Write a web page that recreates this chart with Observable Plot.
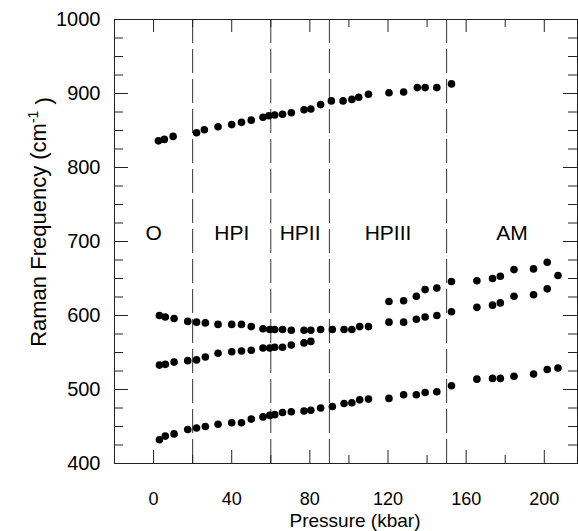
<!DOCTYPE html>
<html>
<head>
<meta charset="utf-8">
<script src="https://cdn.jsdelivr.net/npm/d3@7"></script>
<script src="https://cdn.jsdelivr.net/npm/@observablehq/plot@0.6"></script>
<style>
  html, body { margin: 0; padding: 0; background: #fff; }
</style>
</head>
<body>
<div id="chart"></div>
<script>
// ---- Data ----
// Mode near 835-913 cm^-1
const pressureA = [2.5, 5.5, 10, 22, 26, 33, 40, 45, 50, 56, 59, 62, 66, 70.5, 77, 80.5, 85.5, 91, 97, 101.5, 105, 110, 120.5, 128, 135, 139, 145, 152.5];
const freqA     = [836, 838, 842, 847, 851, 855, 858, 861, 864, 868, 870, 871, 872, 874, 878, 879, 885, 890, 890, 892, 895, 899, 901, 902, 908, 908, 908, 913];
// Mode near 600 -> 580 -> upper AM branch
const pressureB = [3, 6, 10.5, 17.5, 22, 26.5, 33, 40, 45, 50, 56, 59.5, 62, 66, 70.5, 77, 80.5, 85.5, 91.5, 97.5, 101.5, 105.5, 110, 120.5, 128, 134.5, 139, 145, 152.5, 165.5, 173.5, 177.5, 184.5, 194.5, 201.5, 207];
const freqB     = [600, 598, 596, 592, 591, 590, 588, 588, 588, 585, 582, 581, 581, 581, 580, 580, 580, 581, 581, 581, 581, 585, 585, 619, 620, 626, 635, 637, 646, 647, 650, 653, 662, 663, 672, 654];
// Mode near 533 -> 565, then lower AM branch
const pressureC = [3, 6, 10.5, 17.5, 22, 26.5, 33, 40, 45, 50, 56, 59.5, 62, 66, 70.5, 77, 80.5, 120.5, 128, 134.5, 139, 145, 152.5, 165.5, 173.5, 177.5, 184.5, 194.5, 201.5];
const freqC     = [533, 534, 537, 539, 540, 544, 549, 551, 552, 553, 556, 556, 557, 557, 560, 563, 565, 591, 591, 595, 598, 600, 605, 611, 614, 617, 626, 628, 636];
// Mode near 432 -> 529
const pressureD = [3, 6, 10.5, 17.5, 22, 26.5, 33, 40, 45, 50, 56, 59.5, 62, 66, 70.5, 77, 80.5, 85.5, 91.5, 97.5, 101.5, 105.5, 110, 120.5, 128, 134.5, 139, 145, 152.5, 165.5, 173.5, 177.5, 184.5, 194.5, 201.5, 207];
const freqD     = [432, 437, 440, 446, 448, 450, 453, 455, 455, 460, 463, 465, 466, 469, 470, 471, 472, 475, 477, 481, 482, 486, 487, 488, 493, 493, 496, 497, 505, 514, 515, 515, 518, 521, 527, 529];

// Phase boundaries and names
const phaseBounds = [20, 60, 90, 150];
const phaseNames  = ["O", "HPI", "HPII", "HPIII", "AM"];
const phaseLabelFreq = 711;

// Axes
const xDomain = [-20, 217];
const yDomain = [400, 1000];
const xTickLabels = [0, 40, 80, 120, 160, 200];
const xMinorTicks = [20, 60, 100, 140, 180];
const yTickLabels = [400, 500, 600, 700, 800, 900, 1000];
const yMinorTicks = [425, 450, 475, 525, 550, 575, 625, 650, 675, 725, 750, 775, 825, 850, 875, 925, 950, 975];

// ---- Build table ----
const points = [
  ...pressureA.map((p, i) => ({p, f: freqA[i], mode: "A"})),
  ...pressureB.map((p, i) => ({p, f: freqB[i], mode: "B"})),
  ...pressureC.map((p, i) => ({p, f: freqC[i], mode: "C"})),
  ...pressureD.map((p, i) => ({p, f: freqD[i], mode: "D"}))
];
const edges = [xDomain[0], ...phaseBounds, xDomain[1]];
const phaseLabels = phaseNames.map((name, i) => ({name, x: (edges[i] + edges[i + 1]) / 2, y: phaseLabelFreq}));

// ---- Layout ----
const W = 578, H = 531;
const mL = 114, mR = 1, mT = 19, mB = 68;
const fw = W - mL - mR, fh = H - mT - mB;
const majX = 13, minX = 8, majY = 14, minY = 9;
const ink = "#222";
const font = "'Liberation Sans', Arial, Helvetica, sans-serif";

const chart = Plot.plot({
  width: W, height: H,
  marginLeft: mL, marginRight: mR, marginTop: mT, marginBottom: mB,
  style: {fontFamily: font, background: "#fff", color: "#000"},
  x: {domain: xDomain, label: null},
  y: {domain: yDomain, label: null},
  marks: [
    Plot.ruleX(phaseBounds, {stroke: "#333", strokeWidth: 1, strokeDasharray: "24,6"}),
    // inward ticks bottom/top
    Plot.tickX(xTickLabels, {x: d => d, insetTop: fh - majX, stroke: ink}),
    Plot.tickX(xMinorTicks, {x: d => d, insetTop: fh - minX, stroke: ink}),
    Plot.tickX(xTickLabels, {x: d => d, insetBottom: fh - majX, stroke: ink}),
    Plot.tickX(xMinorTicks, {x: d => d, insetBottom: fh - minX, stroke: ink}),
    // inward ticks left/right
    Plot.tickY(yTickLabels, {y: d => d, insetRight: fw - majY, stroke: ink}),
    Plot.tickY(yMinorTicks, {y: d => d, insetRight: fw - minY, stroke: ink}),
    Plot.tickY(yTickLabels, {y: d => d, insetLeft: fw - majY, stroke: ink}),
    Plot.tickY(yMinorTicks, {y: d => d, insetLeft: fw - minY, stroke: ink}),
    Plot.axisX({ticks: xTickLabels, tickSize: 0, tickPadding: 29, fontSize: 18, label: null, tickFormat: d => String(d)}),
    Plot.axisY({ticks: yTickLabels, tickSize: 0, tickPadding: 14, fontSize: 20, label: null, tickFormat: d => String(d)}),
    Plot.frame({stroke: ink, strokeWidth: 1}),
    Plot.text(phaseLabels, {x: "x", y: "y", text: "name", fontSize: 21, fill: "#000", lineAnchor: "middle"}),
    Plot.dot(points, {x: "p", y: "f", r: 3.8, fill: "#000", stroke: "none"})
  ]
});

const svg = d3.select(chart);
// x axis label
svg.append("text")
  .attr("x", 355).attr("y", 527)
  .attr("text-anchor", "middle")
  .attr("font-size", 19).attr("font-family", font).attr("fill", "#000")
  .text("Pressure (kbar)");
// y axis label with superscript
const yl = svg.append("text")
  .attr("transform", "translate(46,222) rotate(-90)")
  .attr("text-anchor", "middle")
  .attr("font-size", 22).attr("font-family", font).attr("fill", "#000");
yl.append("tspan").text("Raman Frequency (cm");
yl.append("tspan").attr("dy", "-0.6em").attr("font-size", 14).text("-1");
yl.append("tspan").attr("dy", "0.6em").text(" )");

document.getElementById("chart").appendChild(chart);
</script>
</body>
</html>
